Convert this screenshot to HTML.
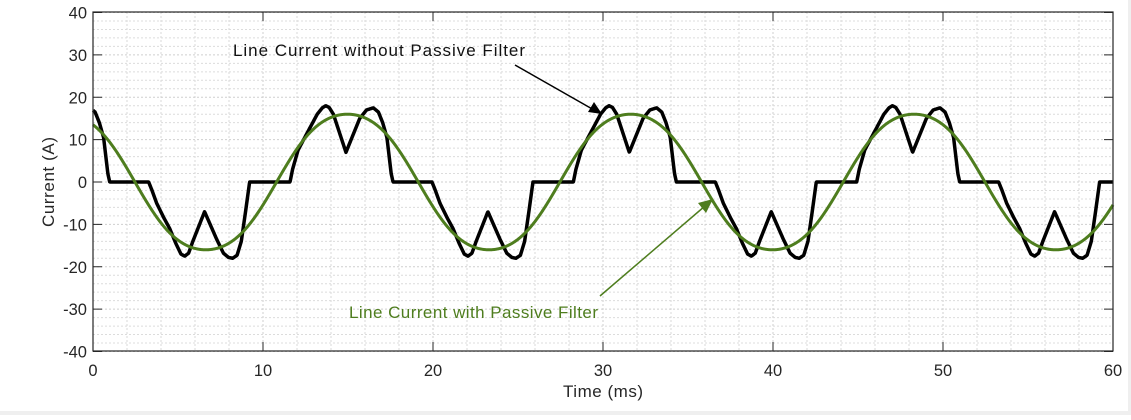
<!DOCTYPE html>
<html><head><meta charset="utf-8"><style>
body{margin:0;width:1131px;height:415px;background:#fff;overflow:hidden;font-family:"Liberation Sans",sans-serif}
</style></head><body>
<svg id="s" width="1131" height="415" xmlns="http://www.w3.org/2000/svg">
<rect x="1128" y="0" width="3" height="415" fill="#efefef"/>
<rect x="0" y="411" width="1131" height="4" fill="#efefef"/>
<g id="grid"></g>
<g id="ticks" stroke="#262626" stroke-width="1"></g>
<path id="blk" fill="none" stroke="#000" stroke-width="3.5" stroke-linejoin="round"/>
<path id="grn" fill="none" stroke="#4e7d1e" stroke-width="3" stroke-linejoin="round"/>
<rect x="93" y="12" width="1020" height="339" fill="none" stroke="#262626" stroke-width="1.2"/>
<g id="lbl" font-size="16.5" fill="#262626"></g>
<text x="603" y="397" font-size="17" fill="#262626" text-anchor="middle" textLength="80">Time (ms)</text>
<text transform="translate(54,182) rotate(-90)" font-size="17" fill="#262626" text-anchor="middle" textLength="90">Current (A)</text>
<text x="233" y="56" font-size="17" fill="#111" textLength="292">Line Current without Passive Filter</text>
<line x1="515" y1="65" x2="594" y2="110" stroke="#000" stroke-width="1.5"/>
<polygon points="602,114 588,112 594,102" fill="#000"/>
<text x="349" y="318" font-size="17" fill="#4e7d1e" textLength="249">Line Current with Passive Filter</text>
<line x1="600" y1="296" x2="705" y2="206" stroke="#4e7d1e" stroke-width="1.5"/>
<polygon points="713,199 706,213 698,203" fill="#4e7d1e"/>
</svg>
<script>
var L=93,R=1113,T=12,B=351;
function X(t){return L+(t/60)*(R-L)}
function Y(v){return 182-v*4.2375}
var g='',tk='',lb='';
for(var t=0;t<=60;t+=2){var x=X(t);g+='<line x1="'+x+'" y1="'+T+'" x2="'+x+'" y2="'+B+'" stroke="'+(t%10?'#d8d8d8':'#cfcfcf')+'" stroke-dasharray="2,2"/>';}
for(var v=-40;v<=40;v+=2){var y=Y(v);g+='<line x1="'+L+'" y1="'+y+'" x2="'+R+'" y2="'+y+'" stroke="'+(v%10?'#dcdcdc':'#cfcfcf')+'" stroke-dasharray="2,2"/>';}
document.getElementById('grid').innerHTML=g;
for(var t=0;t<=60;t+=10){var x=X(t);tk+='<line x1="'+x+'" y1="'+B+'" x2="'+x+'" y2="'+(B-9)+'"/><line x1="'+x+'" y1="'+T+'" x2="'+x+'" y2="'+(T+9)+'"/>';lb+='<text x="'+x+'" y="376" text-anchor="middle">'+t+'</text>';}
for(var v=-40;v<=40;v+=10){var y=Y(v);tk+='<line x1="'+L+'" y1="'+y+'" x2="'+(L+9)+'" y2="'+y+'"/><line x1="'+R+'" y1="'+y+'" x2="'+(R-9)+'" y2="'+y+'"/>';lb+='<text x="87" y="'+(y+6)+'" text-anchor="end">'+v+'</text>';}
document.getElementById('ticks').innerHTML=tk;document.getElementById('lbl').innerHTML=lb;
var P=1000/60;
var pos=[[0,0],[0.15,3],[0.47,7.5],[0.6,8.5],[1.2,13],[1.6,16],[1.9,17.5],[2.1,18],[2.3,17.6],[2.55,16],[3.29,7],[4.1,15],[4.5,17],[4.9,17.5],[5.2,16.5],[5.45,14],[5.7,10.5],[5.95,2],[6.06,0]];
var neg=[[0,0],[0.2,-2],[0.47,-5],[0.9,-8.5],[1.24,-11],[1.6,-14.5],[1.9,-17],[2.12,-17.5],[2.35,-16.8],[2.6,-14],[3.29,-7],[4.0,-13.5],[4.4,-16.8],[4.7,-17.8],[4.94,-18],[5.2,-17.3],[5.45,-14],[5.7,-7],[5.94,0]];
function lobe(p,u){var e=p[p.length-1][0];if(u<=0||u>=e)return 0;for(var i=1;i<p.length;i++){if(u<=p[i][0]){var a=p[i-1],b=p[i];var f=(u-a[0])/(b[0]-a[0]);return a[1]+(b[1]-a[1])*f;}}return 0;}
function blk(t){var t0=11.59;var u=((t-t0)%P+P)%P;if(u<8.35)return lobe(pos,u);return lobe(neg,u-8.35);}
function grn(t){var p=2*Math.PI*(t-10.8)/P;return 16.6*Math.sin(p)+0.6*Math.sin(3*p);}
var b='',gr='';
for(var i=0;i<=3000;i++){var t=i*0.02;b+=(i?'L':'M')+X(t).toFixed(2)+','+Y(blk(t)).toFixed(2);gr+=(i?'L':'M')+X(t).toFixed(2)+','+Y(grn(t)).toFixed(2);}
document.getElementById('blk').setAttribute('d',b);document.getElementById('grn').setAttribute('d',gr);
</script>
</body></html>
